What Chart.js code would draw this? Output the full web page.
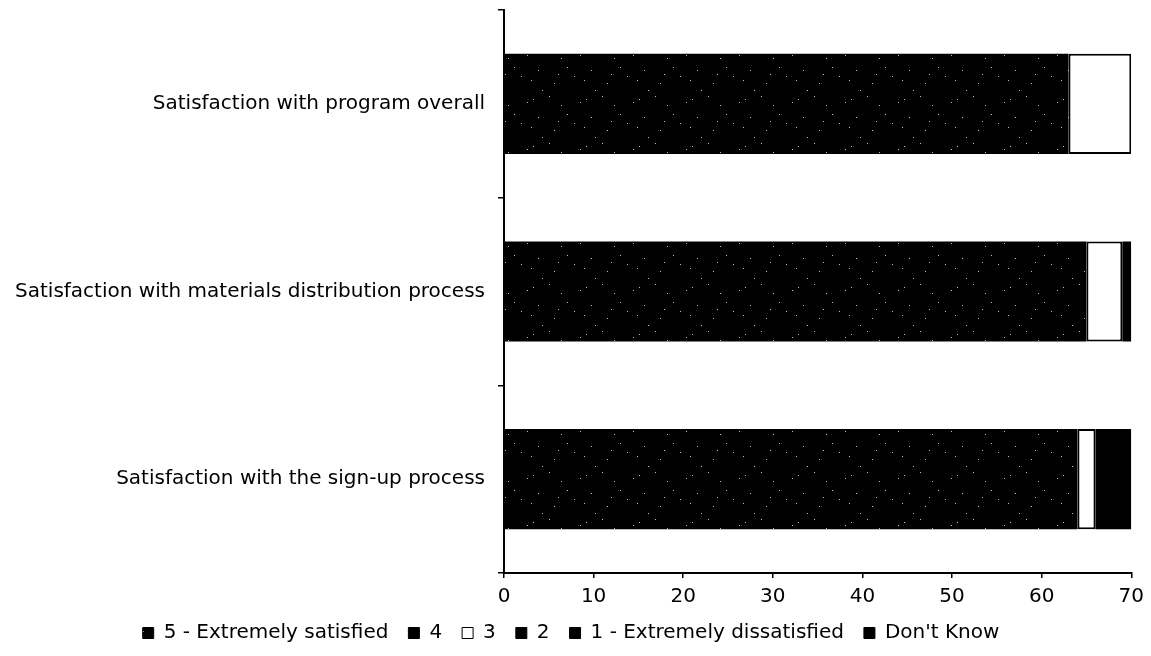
<!DOCTYPE html>
<html>
<head>
<meta charset="utf-8">
<script src="https://cdn.jsdelivr.net/npm/chart.js@4/dist/chart.umd.min.js"></script>
<style>
  html, body { margin: 0; padding: 0; background: #ffffff; }
  #wrap { width: 1151px; height: 656px; }
</style>
</head>
<body>
<div id="wrap"><canvas id="chart" width="1151" height="656"></canvas></div>
<script>
// Survey items (top to bottom)
const categories = [
  'Satisfaction with program overall',
  'Satisfaction with materials distribution process',
  'Satisfaction with the sign-up process'
];

// Response counts per rating, one array per rating level
const rating5 = [63, 65, 64];
const rating4 = [0, 0, 0];
const rating3 = [7, 4, 2];
const rating2 = [0, 0, 0];
const rating1 = [0, 0, 0];
const dontKnow = [0, 1, 4];

const seriesNames = ['5 - Extremely satisfied', '4', '3', '2', '1 - Extremely dissatisfied', "Don't Know"];
const xTicks = [0, 10, 20, 30, 40, 50, 60, 70];

// Stippled fill for the top rating: black with a fixed scatter of light dots
function stippleFill() {
  const c = document.createElement('canvas');
  c.width = 53; c.height = 47;
  const g = c.getContext('2d');
  g.fillStyle = '#000';
  g.fillRect(0, 0, 53, 47);
  g.fillStyle = '#bdbdbd';
  const dots = [[3,5],[19,2],[31,11],[8,23],[44,29],[24,36],[12,43],[37,20],[1,33],[50,8],[28,27]];
  dots.forEach(([x, y]) => g.fillRect(x, y, 1, 1));
  return g.createPattern(c, 'repeat');
}

const FONT = 'DejaVu Sans';
const fills = [stippleFill(), '#000000', '#ffffff', '#000000', '#000000', '#000000'];
const values = [rating5, rating4, rating3, rating2, rating1, dontKnow];

const datasets = seriesNames.map((name, i) => ({
  label: name,
  data: values[i],
  backgroundColor: fills[i],
  borderColor: '#000000',
  borderWidth: i === 2 ? 2 : 0,
  borderSkipped: false,
  categoryPercentage: 0.6,
  barPercentage: 0.89
}));

new Chart(document.getElementById('chart'), {
  type: 'bar',
  data: { labels: categories, datasets },
  options: {
    indexAxis: 'y',
    responsive: false,
    animation: false,
    layout: { padding: { top: 10, right: 18, left: 9, bottom: 3 } },
    plugins: {
      tooltip: { enabled: false },
      legend: {
        position: 'bottom',
        labels: {
          font: { family: FONT, size: 20 },
          color: '#000',
          boxWidth: 11,
          boxHeight: 11,
          padding: 20,
          generateLabels(chart) {
            return chart.data.datasets.map((ds, i) => ({
              text: ds.label,
              fillStyle: ds.backgroundColor,
              strokeStyle: '#000',
              lineWidth: 1,
              datasetIndex: i,
              fontColor: '#000'
            }));
          }
        }
      }
    },
    scales: {
      x: {
        stacked: true,
        min: 0,
        max: 70,
        afterBuildTicks(s) { s.ticks = xTicks.map(v => ({ value: v })); },
        afterFit(s) { s.height = 30; },
        border: { display: true, color: '#000', width: 2 },
        grid: { display: true, drawOnChartArea: false, drawTicks: true, tickLength: 5, color: '#000', lineWidth: 1.5 },
        ticks: { color: '#000', font: { family: FONT, size: 20 }, padding: 7 }
      },
      y: {
        stacked: true,
        afterFit(s) { s.width = 495; s.paddingTop = 0; s.paddingBottom = 0; },
        border: { display: true, color: '#000', width: 2 },
        grid: { display: true, drawOnChartArea: false, drawTicks: true, tickLength: 6, color: '#000', lineWidth: 1.5 },
        ticks: { color: '#000', font: { family: FONT, size: 20 }, padding: 13 }
      }
    }
  }
});
</script>
</body>
</html>
